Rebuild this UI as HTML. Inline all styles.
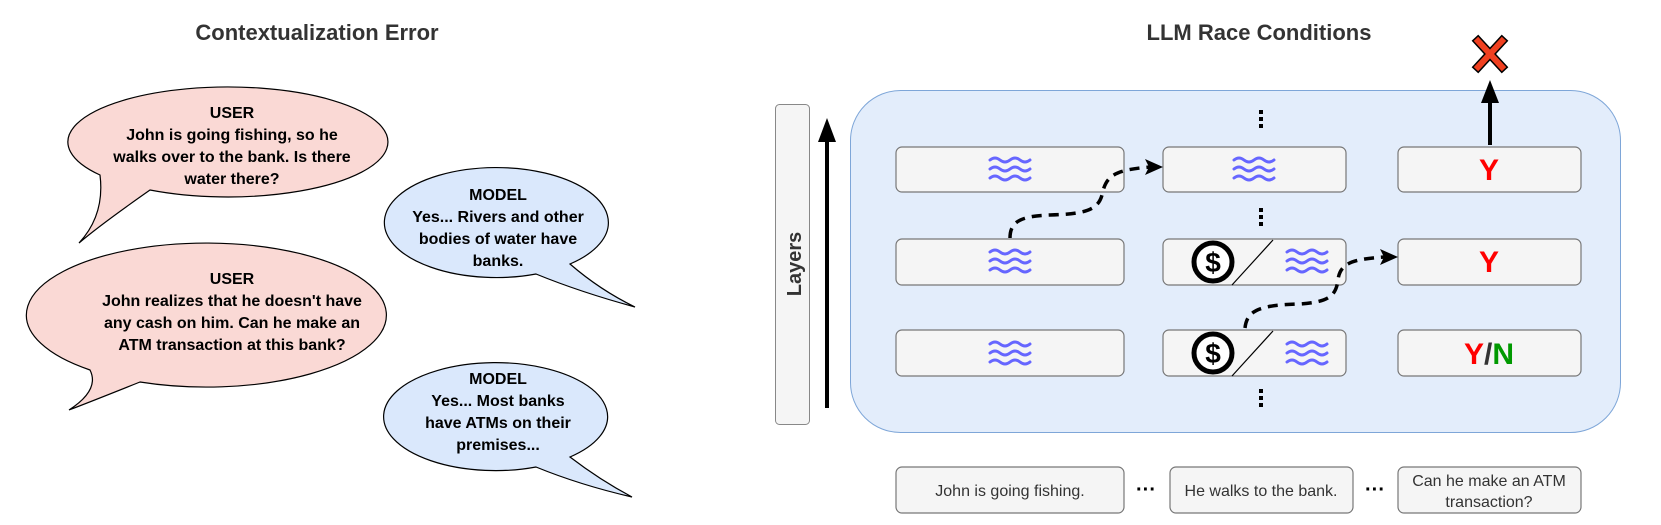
<!DOCTYPE html>
<html><head><meta charset="utf-8"><style>
html,body{margin:0;padding:0;background:#fff;}
svg{display:block;font-family:"Liberation Sans",sans-serif;}
</style></head><body>
<svg width="1661" height="525" viewBox="0 0 1661 525" xmlns="http://www.w3.org/2000/svg">
<defs>
<g id="wav" fill="none" stroke="#6666ff" stroke-width="3" stroke-linecap="round">
<path d="M-20,-9 q5,-4 10,0 t10,0 t10,0 t10,0"/>
<path d="M-20,0 q5,-4 10,0 t10,0 t10,0 t10,0"/>
<path d="M-20,9 q5,-4 10,0 t10,0 t10,0 t10,0"/>
</g>
<g id="dol">
<circle cx="0" cy="0" r="19" fill="#fff" stroke="#000" stroke-width="5"/>
<text x="0" y="10" text-anchor="middle" font-size="28" font-weight="bold">$</text>
</g>
</defs>
<text x="317" y="40" text-anchor="middle" font-size="22" font-weight="bold" fill="#333">Contextualization Error</text>
<text x="1259" y="40" text-anchor="middle" font-size="22" font-weight="bold" fill="#333">LLM Race Conditions</text>

<!-- bubbles -->
<g stroke="#000" stroke-width="1.2">
<path d="M100,175 A160,55 0 1 1 150,190 Q100,225 79,243 Q105,215 100,175 Z" fill="#fad9d5"/>
<path d="M536,274 A112,55 0 1 1 570,264 Q600,290 635,307 Q580,292 536,274 Z" fill="#dae8fc"/>
<path d="M90,370 A180,72 0 1 1 140,382 Q95,400 69,410 Q100,390 90,370 Z" fill="#fad9d5"/>
<path d="M536,467 A112,54 0 1 1 570,457 Q600,480 632,497 Q580,485 536,467 Z" fill="#dae8fc"/>
</g>
<g font-size="16" font-weight="bold" text-anchor="middle" fill="#000">
<text x="232" y="118">USER</text>
<text x="232" y="140">John is going fishing, so he</text>
<text x="232" y="162">walks over to the bank. Is there</text>
<text x="232" y="184">water there?</text>
<text x="498" y="200">MODEL</text>
<text x="498" y="222">Yes... Rivers and other</text>
<text x="498" y="244">bodies of water have</text>
<text x="498" y="266">banks.</text>
<text x="232" y="284">USER</text>
<text x="232" y="306">John realizes that he doesn't have</text>
<text x="232" y="328">any cash on him. Can he make an</text>
<text x="232" y="350">ATM transaction at this bank?</text>
<text x="498" y="384">MODEL</text>
<text x="498" y="406">Yes... Most banks</text>
<text x="498" y="428">have ATMs on their</text>
<text x="498" y="450">premises...</text>
</g>

<!-- right -->
<rect x="775.5" y="104.5" width="34" height="320" rx="4" fill="#f5f5f5" stroke="#888"/>
<text transform="translate(801,264) rotate(-90)" text-anchor="middle" font-size="20" font-weight="bold" fill="#333">Layers</text>
<line x1="827" y1="408" x2="827" y2="138" stroke="#000" stroke-width="4"/>
<polygon points="827,118 818,142 836,142" fill="#000"/>

<rect x="850.5" y="90.5" width="770" height="342" rx="50" fill="#e3edfb" stroke="#7ea6d8"/>

<g fill="#f5f5f5" stroke="#777" stroke-width="1.2">
<rect x="896" y="147" width="228" height="45" rx="6"/>
<rect x="896" y="239" width="228" height="46" rx="6"/>
<rect x="896" y="330" width="228" height="46" rx="6"/>
<rect x="1163" y="147" width="183" height="45" rx="6"/>
<rect x="1163" y="239" width="183" height="46" rx="6"/>
<rect x="1163" y="330" width="183" height="46" rx="6"/>
<rect x="1398" y="147" width="183" height="45" rx="6"/>
<rect x="1398" y="239" width="183" height="46" rx="6"/>
<rect x="1398" y="330" width="183" height="46" rx="6"/>
<rect x="896" y="467" width="228" height="46" rx="6"/>
<rect x="1170" y="467" width="183" height="46" rx="6"/>
<rect x="1398" y="467" width="183" height="46" rx="6"/>
</g>
<use href="#wav" x="1010" y="169"/>
<use href="#wav" x="1010" y="261"/>
<use href="#wav" x="1010" y="353"/>
<use href="#wav" x="1254" y="169"/>
<use href="#wav" x="1307" y="261"/>
<use href="#wav" x="1307" y="353"/>
<line x1="1232" y1="285" x2="1273" y2="240" stroke="#000" stroke-width="1.2"/>
<line x1="1232" y1="376" x2="1273" y2="331" stroke="#000" stroke-width="1.2"/>
<use href="#dol" x="1213" y="262"/>
<use href="#dol" x="1213" y="353"/>

<g font-size="30" font-weight="bold" text-anchor="middle">
<text x="1489" y="180" fill="#f00">Y</text>
<text x="1489" y="272" fill="#f00">Y</text>
<text x="1489" y="364"><tspan fill="#f00">Y</tspan><tspan fill="#333">/</tspan><tspan fill="#009900">N</tspan></text>
</g>

<g fill="#000">
<rect x="1259" y="110" width="4" height="4"/><rect x="1259" y="117" width="4" height="4"/><rect x="1259" y="124" width="4" height="4"/>
<rect x="1259" y="208" width="4" height="4"/><rect x="1259" y="215" width="4" height="4"/><rect x="1259" y="222" width="4" height="4"/>
<rect x="1259" y="389" width="4" height="4"/><rect x="1259" y="396" width="4" height="4"/><rect x="1259" y="403" width="4" height="4"/>
</g>

<path d="M1010,238 C1010,222 1020,216 1050,215 C1085,214 1098,210 1102,195 C1106,175 1115,170 1150,167" fill="none" stroke="#000" stroke-width="3.5" stroke-dasharray="10,7"/>
<polygon points="1163,167 1145,159 1149,167 1145,175" fill="#000"/>
<path d="M1245,328 C1247,310 1260,305 1300,304 C1330,302 1336,295 1338,280 C1340,262 1355,259 1385,257" fill="none" stroke="#000" stroke-width="3.5" stroke-dasharray="10,7"/>
<polygon points="1398,257 1380,249 1384,257 1380,265" fill="#000"/>

<line x1="1490" y1="145" x2="1490" y2="100" stroke="#000" stroke-width="4"/>
<polygon points="1490,80 1481,103 1499,103" fill="#000"/>
<g stroke="#000" stroke-width="9" stroke-linecap="square"><line x1="1478" y1="41" x2="1502" y2="67"/><line x1="1502" y1="41" x2="1478" y2="67"/></g>
<g stroke="#f04020" stroke-width="6" stroke-linecap="square"><line x1="1478" y1="41" x2="1502" y2="67"/><line x1="1502" y1="41" x2="1478" y2="67"/></g>

<g font-size="16" fill="#333" text-anchor="middle">
<text x="1010" y="496">John is going fishing.</text>
<text x="1261" y="496">He walks to the bank.</text>
<text x="1489" y="486">Can he make an ATM</text>
<text x="1489" y="507">transaction?</text>
</g>
<g font-size="20" font-weight="bold" text-anchor="middle" fill="#000">
<text x="1146" y="496">···</text>
<text x="1375" y="496">···</text>
</g>
</svg>
</body></html>
